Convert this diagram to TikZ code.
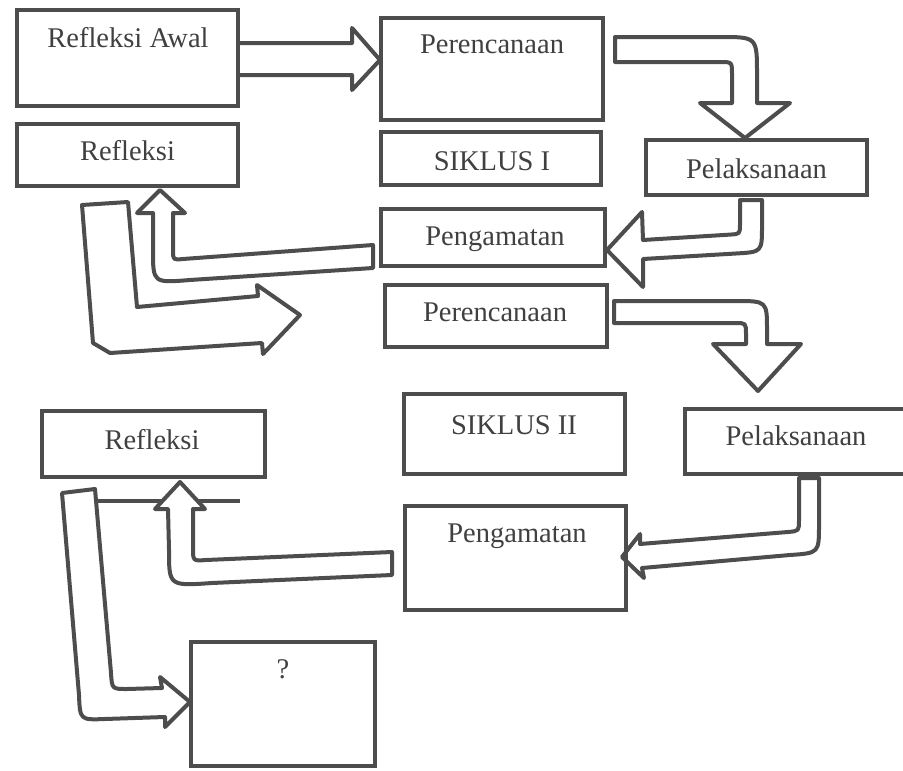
\documentclass[tikz,border=0pt]{standalone}
\usepackage{fontspec}
\setmainfont{Liberation Serif}
\definecolor{lc}{HTML}{4D4D4D}
\definecolor{tc}{HTML}{404040}
\begin{document}
\begin{tikzpicture}[x=1pt,y=-1pt,
  box/.style={draw=lc, line width=4pt, rectangle, inner sep=0pt, outer sep=0pt},
  txt/.style={anchor=base, inner sep=0pt, text=tc, font=\fontsize{28.5}{34}\selectfont},
  barrow/.style={draw=lc, line width=4pt, fill=white, line join=round}]
\useasboundingbox (0,0) rectangle (903,771);

% ---- block arrows ----
% Refleksi Awal -> Perencanaan
\draw[barrow] (240,43) -- (352,43) -- (352,28) -- (380,60) -- (352,90) -- (352,75) -- (240,75);
% Perencanaan -> Pelaksanaan
\draw[barrow] (615,37) -- (720,37) .. controls (757,37) .. (757,74) -- (757,103) -- (790,103)
  -- (745,138) -- (700,103) -- (732,103) -- (732,74) .. controls (732,62) .. (720,62) -- (615,62) -- cycle;
% Pelaksanaan -> Pengamatan
\draw[barrow] (740,200) -- (762,200) -- (762,226) .. controls (762,252) .. (736,253.5) -- (643,259)
  -- (643,287) -- (607,250) -- (642,212) -- (643,240) -- (730,234.6) .. controls (740,234) .. (740,224) -- cycle;
% Pengamatan -> Refleksi
\draw[barrow] (373,245) -- (373,268) -- (190,280) .. controls (153,283) .. (153,250) -- (153,213)
  -- (137,213) -- (160,190) -- (185,213) -- (173,213) -- (173,250) .. controls (173,260) .. (183,259) -- cycle;
% big L arrow (cycle I -> cycle II)
\draw[barrow] (82,205) -- (128,202) -- (137,307) -- (258,296) -- (257,285) -- (300,315) -- (263,354)
  -- (262,343) -- (110,353) -- (93,343) -- cycle;
% Perencanaan 2 -> Pelaksanaan 2
\draw[barrow] (614,301) -- (735,301) .. controls (767,301) .. (767,330) -- (767,344) -- (801,344)
  -- (758,391) -- (713,344) -- (746,344) -- (746,334) .. controls (746,323) .. (735,323) -- (614,323) -- cycle;
% Pelaksanaan 2 -> Pengamatan 2
\draw[barrow] (799,478) -- (819,478) -- (819,525) .. controls (819,553) .. (790,555) -- (642,568)
  -- (644,578) -- (622,557) -- (640,534) -- (640,544) -- (788,532) .. controls (799,531) .. (799,520) -- cycle;
% line under Refleksi 2
\draw[lc, line width=4pt] (97,501) -- (240,501);
% Pengamatan 2 -> Refleksi 2
\draw[barrow] (392,552) -- (392,575) -- (212,583) .. controls (169,586) .. (169,550) -- (168,509)
  -- (155,509) -- (180,482) -- (205,509) -- (193,509) -- (193,548) .. controls (193,561) .. (206,560) -- cycle;
% Refleksi 2 -> ?
\draw[barrow] (62,493) -- (95,489) -- (111,673) .. controls (112,689) .. (127,689) -- (162,688)
  -- (160,677) -- (190,702) -- (165,727) -- (165,717) -- (105,719) .. controls (80,720) .. (79,695) -- cycle;

% ---- boxes ----
\node[box, minimum width=221pt, minimum height=96pt]  (ra)  at (127.5,58)  {};
\node[box, minimum width=221pt, minimum height=62pt]  (rf1) at (127.5,155) {};
\node[box, minimum width=222pt, minimum height=102pt] (pr1) at (492,69)    {};
\node[box, minimum width=220pt, minimum height=53pt]  (s1)  at (491,158.5) {};
\node[box, minimum width=221pt, minimum height=55pt]  (pl1) at (756.5,167.5) {};
\node[box, minimum width=224pt, minimum height=57pt]  (pg1) at (493,237.5) {};
\node[box, minimum width=222pt, minimum height=62pt]  (pr2) at (496,316)   {};
\node[box, minimum width=221pt, minimum height=80pt]  (s2)  at (514.5,434) {};
\node[box, minimum width=225pt, minimum height=65pt]  (pl2) at (797.5,441.5) {};
\node[box, minimum width=221pt, minimum height=104pt] (pg2) at (515.5,558) {};
\node[box, minimum width=223pt, minimum height=66pt]  (rf2) at (153.5,444) {};
\node[box, minimum width=184pt, minimum height=124pt] (q)   at (283,704)   {};

% ---- texts ----
\node[txt] (t1)  at (128,47)   {Refleksi Awal};
\node[txt] (t2)  at (127.5,160) {Refleksi};
\node[txt] (t3)  at (492,53)   {Perencanaan};
\node[txt] (t4)  at (492,170)  {SIKLUS I};
\node[txt] (t5)  at (756.5,178) {Pelaksanaan};
\node[txt] (t6)  at (495,245)  {Pengamatan};
\node[txt] (t7)  at (495,321)  {Perencanaan};
\node[txt] (t8)  at (514,434)  {SIKLUS II};
\node[txt] (t9)  at (796,445)  {Pelaksanaan};
\node[txt] (t10) at (517,542)  {Pengamatan};
\node[txt] (t11) at (152,449)  {Refleksi};
\node[txt] (t12) at (283,678)  {?};
\end{tikzpicture}
\end{document}
